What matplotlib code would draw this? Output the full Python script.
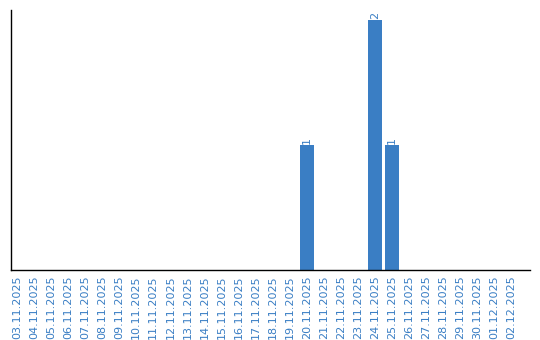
import matplotlib
matplotlib.use("Agg")
import matplotlib.pyplot as plt
import numpy as np

dates = ['03.11.2025', '04.11.2025', '05.11.2025', '06.11.2025', '07.11.2025',
         '08.11.2025', '09.11.2025', '10.11.2025', '11.11.2025', '12.11.2025',
         '13.11.2025', '14.11.2025', '15.11.2025', '16.11.2025', '17.11.2025',
         '18.11.2025', '19.11.2025', '20.11.2025', '21.11.2025', '22.11.2025',
         '23.11.2025', '24.11.2025', '25.11.2025', '26.11.2025', '27.11.2025',
         '28.11.2025', '29.11.2025', '30.11.2025', '01.12.2025', '02.12.2025']
counts = [0, 0, 0, 0, 0, 0, 0, 0, 0, 0,
          0, 0, 0, 0, 0, 0, 0, 1, 0, 0,
          0, 2, 1, 0, 0, 0, 0, 0, 0, 0]

blue = '#3a7ec4'

fig = plt.figure(figsize=(5.4, 3.4), dpi=100)
ax = fig.add_axes([11/540, 70/340, 519/540, 260/340])

x = np.arange(len(dates))
ax.bar(x, counts, width=0.82, color=blue)
# value labels on top of the non-empty bars
for xi, c in zip(x, counts):
    if c > 0:
        ax.text(xi, c + 0.01, str(c), rotation=90, ha='center', va='bottom',
                color=blue, fontsize=8)

ax.set_xlim(-0.35, 30.1)
ax.set_ylim(0, 2.08)
ax.set_xticks(x)
ax.set_xticklabels(dates, rotation=90, color=blue, fontsize=8)
ax.tick_params(axis='x', length=0, pad=4)
ax.set_yticks([])
ax.spines['top'].set_visible(False)
ax.spines['right'].set_visible(False)
ax.spines['left'].set_linewidth(1.0)
ax.spines['bottom'].set_linewidth(1.0)

fig.savefig('out.png', dpi=100)
